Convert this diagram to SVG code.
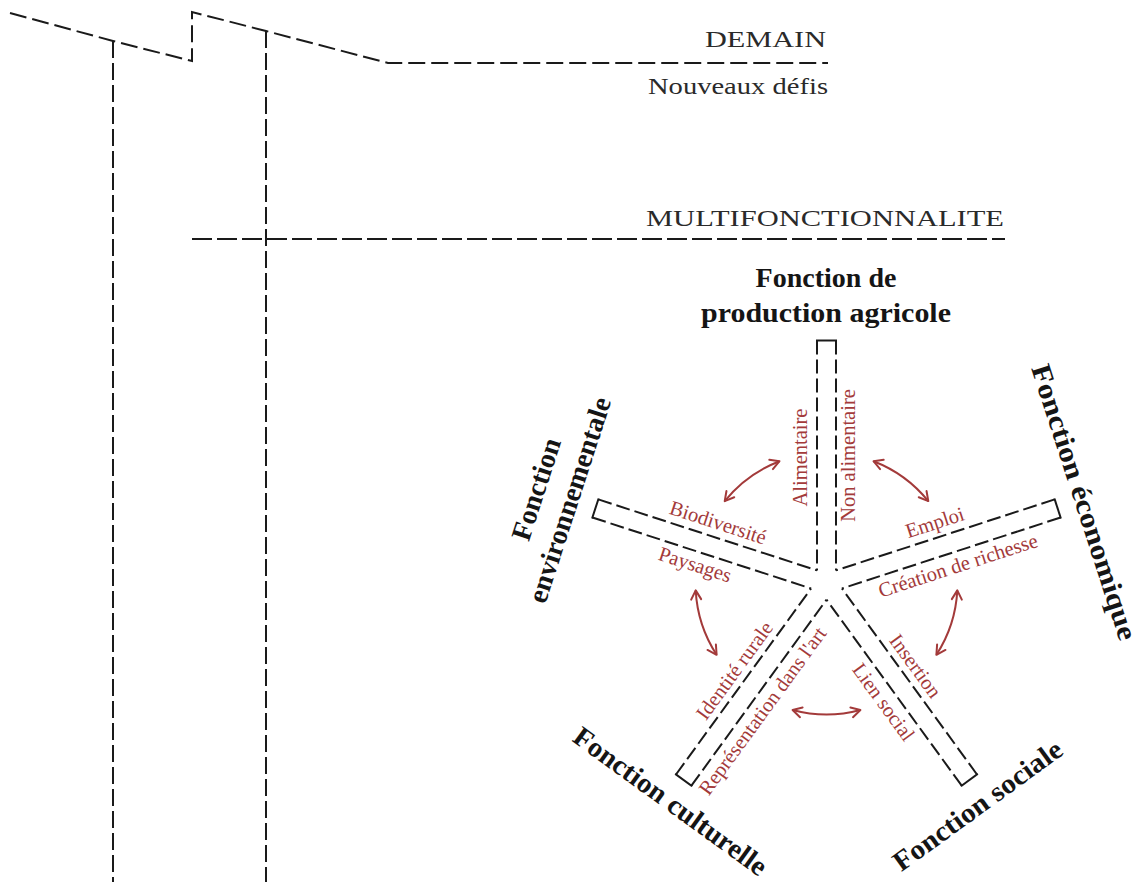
<svg xmlns="http://www.w3.org/2000/svg" width="1137" height="882" viewBox="0 0 1137 882">
  <style>
    .frame { fill: none; stroke: #1a1a1a; stroke-width: 2; }
    .slant { stroke-dasharray: 17 6; }
    .vert { stroke-dasharray: 17 5; }
    .hor { stroke-dasharray: 20 5; }
    .arm { fill: none; stroke: #1a1a1a; stroke-width: 2; stroke-dasharray: 14 5; }
    .cap { fill: none; stroke: #1a1a1a; stroke-width: 2; stroke-linecap: square; }
    .era { font-family: 'Liberation Serif', 'DejaVu Serif', serif; font-size: 24px; fill: #2a2a2a; }
    .fn { font-family: 'Liberation Serif', 'DejaVu Serif', serif; font-size: 28px; font-weight: bold; fill: #151515; text-anchor: middle; }
    .sub { font-family: 'Liberation Serif', 'DejaVu Serif', serif; font-size: 20.5px; fill: #a33a3a; text-anchor: middle; }
    .link { fill: none; stroke: #a33a3a; stroke-width: 2; marker-start: url(#head); marker-end: url(#head); }
  </style>
  <defs>
    <marker id="head" markerUnits="userSpaceOnUse" markerWidth="14" markerHeight="14" refX="9" refY="5" orient="auto-start-reverse" overflow="visible">
      <path d="M0,0 L9,5 L0,10" fill="none" stroke="#a33a3a" stroke-width="2" stroke-linecap="round" stroke-linejoin="round"/>
    </marker>
  </defs>

  <rect width="1137" height="882" fill="#ffffff"/>

  <!-- timeline frame -->
  <g id="timeline">
    <path class="frame slant" d="M10,13 L113,41 L192,61 L192,12 L266,31 L388,63 L828,63"/>
    <path class="frame vert" d="M113,41 L113,882"/>
    <path class="frame vert" d="M266,31 L266,882"/>
    <path class="frame hor" d="M192,239 L1005,239"/>
  </g>

  <g id="demain">
    <text class="era" x="826" y="47" text-anchor="end" textLength="121" lengthAdjust="spacingAndGlyphs">DEMAIN</text>
    <text class="era" x="828" y="94" text-anchor="end" font-size="25" textLength="180" lengthAdjust="spacingAndGlyphs">Nouveaux défis</text>
  </g>

  <g id="multifonctionnalite">
    <text class="era" x="1004" y="226" text-anchor="end" textLength="358" lengthAdjust="spacingAndGlyphs">MULTIFONCTIONNALITE</text>
  </g>

  <!-- five-armed star, arms dashed from the tip inward -->
  <g id="star">
    <path class="cap" d="M817,340.5 L836,340.5"/>
    <path class="arm" d="M817,340.5 L817,570.4 M836,340.5 L836,570.4"/>
    <path class="cap" d="M1054.7,499.4 L1060.6,517.5"/>
    <path class="arm" d="M1054.7,499.4 L836,570.4 M1060.6,517.5 L841.9,588.5"/>
    <path class="cap" d="M977,774.5 L961.7,785.7"/>
    <path class="arm" d="M977,774.5 L841.9,588.5 M961.7,785.7 L826.5,599.7"/>
    <path class="cap" d="M691.4,785.7 L676,774.5"/>
    <path class="arm" d="M691.4,785.7 L826.5,599.7 M676,774.5 L811.1,588.5"/>
    <path class="cap" d="M592.4,517.5 L598.3,499.4"/>
    <path class="arm" d="M592.4,517.5 L811.1,588.5 M598.3,499.4 L817,570.4"/>
  </g>

  <g id="fonction-production">
    <text class="fn" x="826" y="287">Fonction de</text>
    <text class="fn" x="826" y="322" textLength="250" lengthAdjust="spacingAndGlyphs">production agricole</text>
    <text class="sub" transform="translate(807,457.5) rotate(-90)">Alimentaire</text>
    <text class="sub" transform="translate(855,455.5) rotate(-90)">Non alimentaire</text>
  </g>

  <g id="fonction-economique">
    <text class="fn" transform="translate(1075.4,505) rotate(72)" textLength="288" lengthAdjust="spacingAndGlyphs">Fonction économique</text>
    <text class="sub" transform="translate(937,529) rotate(-18)">Emploi</text>
    <text class="sub" transform="translate(960,572) rotate(-18)">Création de richesse</text>
  </g>

  <g id="fonction-sociale">
    <text class="fn" transform="translate(983,813) rotate(-36)" textLength="202" lengthAdjust="spacingAndGlyphs">Fonction sociale</text>
    <text class="sub" transform="translate(910,670) rotate(54)">Insertion</text>
    <text class="sub" transform="translate(878,706) rotate(54)">Lien social</text>
  </g>

  <g id="fonction-culturelle">
    <text class="fn" transform="translate(665,808.8) rotate(36)" textLength="232" lengthAdjust="spacingAndGlyphs">Fonction culturelle</text>
    <text class="sub" transform="translate(740,674.5) rotate(-54)">Identité rurale</text>
    <text class="sub" transform="translate(768,715) rotate(-54)">Représentation dans l'art</text>
  </g>

  <g id="fonction-environnementale">
    <g transform="translate(545,492) rotate(-72)">
      <text class="fn" x="0" y="0">Fonction</text>
      <text class="fn" x="0" y="35">environnementale</text>
    </g>
    <text class="sub" transform="translate(716,529) rotate(18)">Biodiversité</text>
    <text class="sub" transform="translate(693,571) rotate(18)">Paysages</text>
  </g>

  <!-- interactions between neighbouring functions -->
  <g id="connectors">
    <path class="link" d="M724.7,501.1 A131,131 0 0 1 779.5,461.2"/>
    <path class="link" d="M873.5,461.2 A131,131 0 0 1 928.3,501.1"/>
    <path class="link" d="M957.3,590.4 A131,131 0 0 1 936.4,654.8"/>
    <path class="link" d="M860.4,710 A131,131 0 0 1 792.6,710"/>
    <path class="link" d="M716.6,654.8 A131,131 0 0 1 695.7,590.4"/>
  </g>
</svg>
